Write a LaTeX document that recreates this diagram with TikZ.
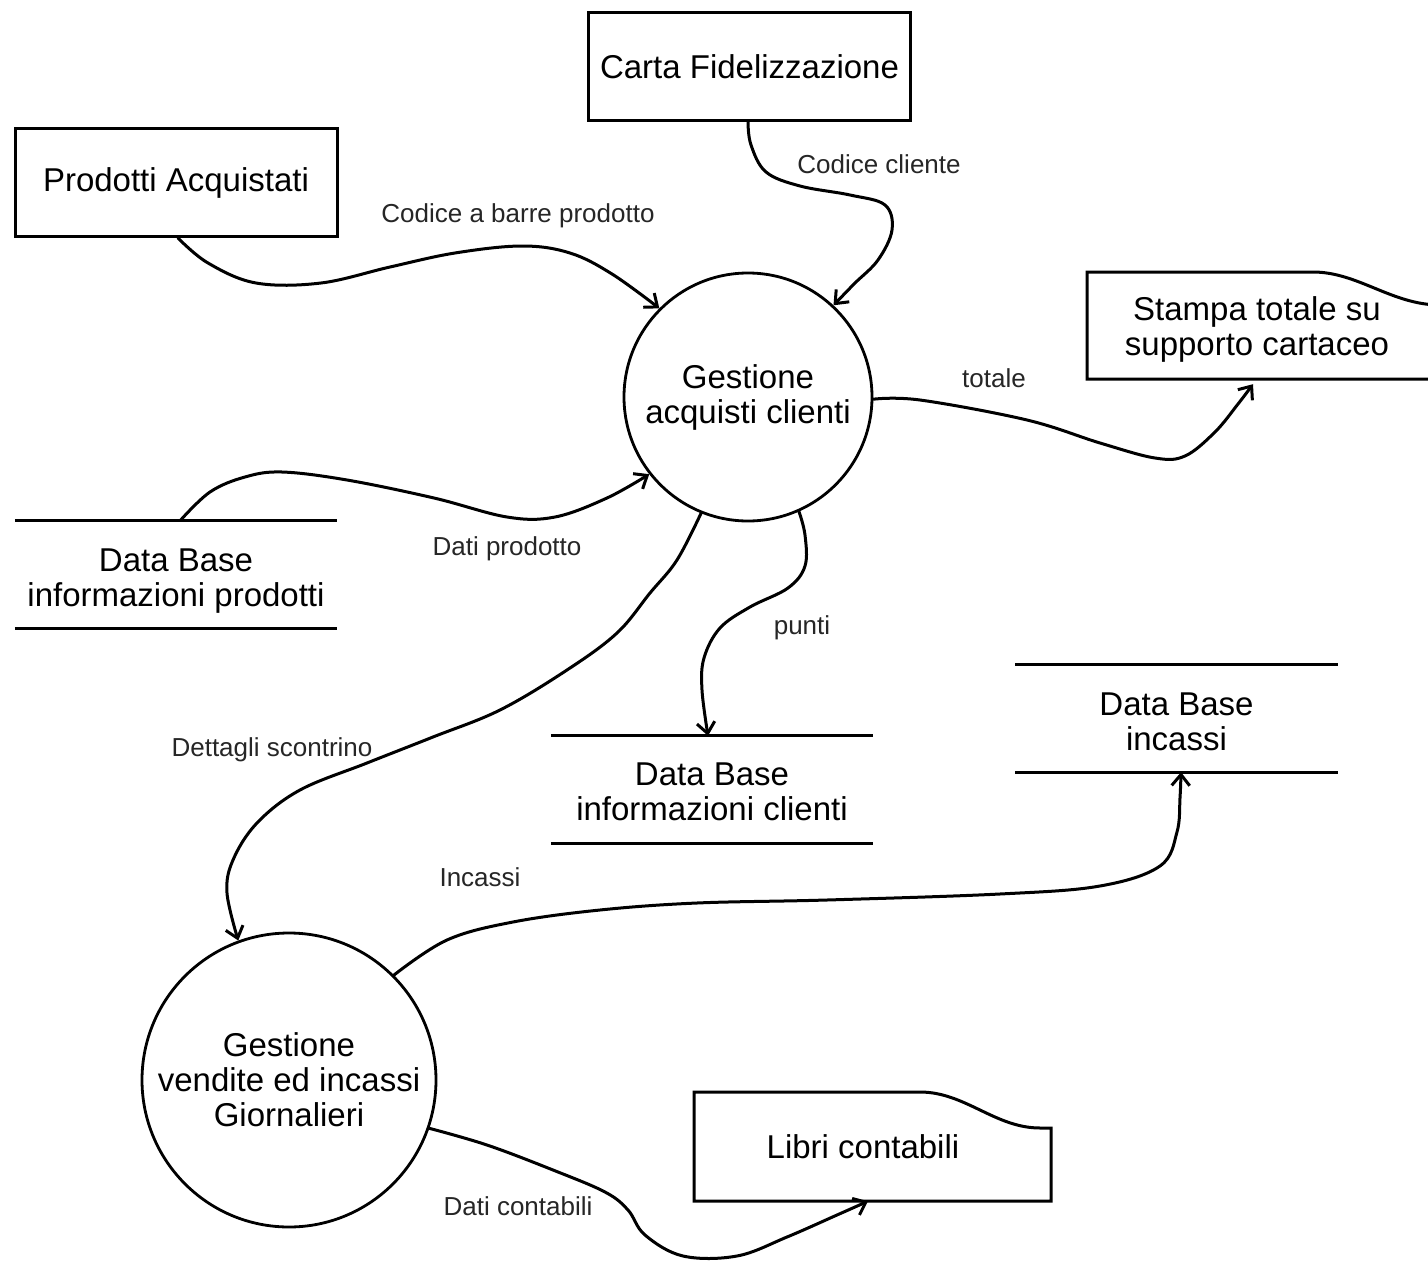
\documentclass[tikz,border=0pt]{standalone}
\usepackage{fontspec}
\setmainfont{Liberation Sans}
\usetikzlibrary{arrows.meta}

\tikzset{
  every picture/.style={x=1pt, y=-1pt},
  wire/.style={line width=3pt, line cap=round, line join=round},
  flow/.style={wire, -{Straight Barb[length=11pt, width=18pt]}},
  entity/.style={draw, line width=3pt, rectangle, inner sep=0pt,
    minimum width=322pt, minimum height=108pt, align=center,
    font=\fontsize{33}{35}\selectfont},
  process/.style={draw, line width=2.8pt, circle, inner sep=0pt, align=center,
    font=\fontsize{33}{35}\selectfont},
  store/.style={rectangle, inner sep=0pt, minimum width=322pt,
    minimum height=107pt, align=center, font=\fontsize{33}{35}\selectfont},
  doctext/.style={rectangle, inner sep=0pt, align=center,
    font=\fontsize{33}{35}\selectfont},
  flowlabel/.style={inner sep=0pt, text=black!85,
    font=\fontsize{26}{28}\selectfont},
}

\begin{document}
\begin{tikzpicture}
\useasboundingbox[fill=white] (0,0) rectangle (1428,1261);

% external entities
\node[entity] (carta) at (749.5,66.5) {Carta Fidelizzazione};
\node[entity] (prod) at (176,182.5) {Prodotti Acquistati};

% processes
\node[process, minimum size=248pt] (gac) at (748,397) {Gestione\\acquisti clienti};
\node[process, minimum size=294pt] (gvi) at (289,1080) {Gestione\\vendite ed incassi\\Giornalieri};

% data stores: the two rules sit slightly above the text block
\node[store] (dbp) at (176,581.5) {Data Base\\informazioni prodotti};
\node[store] (dbc) at (712,791.5) {Data Base\\informazioni clienti};
\node[store] (dbi) at (1176.5,721.5) {Data Base\\incassi};
\foreach \s/\d in {dbp/7pt, dbc/2pt, dbi/3pt}{
  \draw[wire, line cap=butt] ([yshift=\d]\s.north west) -- ([yshift=\d]\s.north east);
  \draw[wire, line cap=butt] ([yshift=\d]\s.south west) -- ([yshift=\d]\s.south east);
}

% printed documents
\node[doctext, minimum height=107pt] (stampa) at (1257,329) {Stampa totale su\\supporto cartaceo};
\draw[line width=3pt, line join=miter]
  (1440,379) -- (1087,379) -- (1087,272) -- (1313,272)
  .. controls (1358,272) and (1392,305) .. (1440,305);
\node[doctext, minimum height=109pt] (libri) at (863,1146.5) {Libri contabili};
\draw[line width=3pt, line join=miter]
  (694,1092) -- (920,1092)
  .. controls (965,1092) and (995,1128) .. (1040,1128)
  -- (1051,1128) -- (1051,1201) -- (694,1201) -- cycle;

% data flows
\draw[flow] plot[smooth, tension=0.6] coordinates {
  ([xshift=2pt]prod.south) (208,263) (256,283) (321,283) (390,267)
  (455,253) (522,246) (570,253) (612,274) (gac.135)};
\node[flowlabel] (l1) at (518,216) {Codice a barre prodotto};

\draw[flow] plot[smooth, tension=0.6] coordinates {
  ([xshift=-1.5pt]carta.south) (751,145) (766,172) (800,186) (850,195)
  (885,205) (892,230) (878,260) (854,284) (gac.47)};
\node[flowlabel] (l2) at (879,164) {Codice cliente};

\draw[flow] plot[smooth, tension=0.6] coordinates {
  (gac.-1) (920,400) (1027,420) (1100,443) (1155,458) (1185,456)
  (1215,432) (1238,404) ([shift={(-4pt,-1.5pt)}]stampa.south)};
\node[flowlabel] (l3) at (994,378) {totale};

\draw[flow] plot[smooth, tension=0.6] coordinates {
  ([shift={(4pt,7pt)}]dbp.north) (210,492) (245,477) (282,472) (347,480)
  (434,498) (507,517) (555,517) (607,498) (gac.218)};
\node[flowlabel] (l4) at (507,549) {Dati prodotto};

\draw[flow] plot[smooth, tension=0.6] coordinates {
  (gac.-66) (805,535) (805,566) (788,588) (750,607) (720,628)
  (704,658) (702,690) ([shift={(-4pt,2pt)}]dbc.north)};
\node[flowlabel] (l5) at (802,628) {punti};

\draw[flow] plot[smooth, tension=0.6] coordinates {
  (gac.248) (677,560) (650,593) (617,633) (567,670) (500,710)
  (433,737) (367,763) (300,790) (257,823) (233,860) (227,893)
  (gvi.110)};
\node[flowlabel] (l6) at (272,750) {Dettagli scontrino};

\draw[flow] plot[smooth, tension=0.6] coordinates {
  (gvi.45) (447,940) (513,922) (600,910) (697,903) (827,900)
  (1000,894) (1100,886) (1160,866) (1177,832) (1180,798)
  ([shift={(4.5pt,3pt)}]dbi.south)};
\node[flowlabel] (l7) at (480,877) {Incassi};

\draw[flow] plot[smooth, tension=0.6] coordinates {
  (gvi.-19) (487,1145) (553,1170) (605,1192) (628,1210) (645,1235)
  (683,1256) (737,1256) (787,1237) (837,1215) ([xshift=5pt]libri.south)};
\node[flowlabel] (l8) at (518,1206) {Dati contabili};
\end{tikzpicture}
\end{document}
